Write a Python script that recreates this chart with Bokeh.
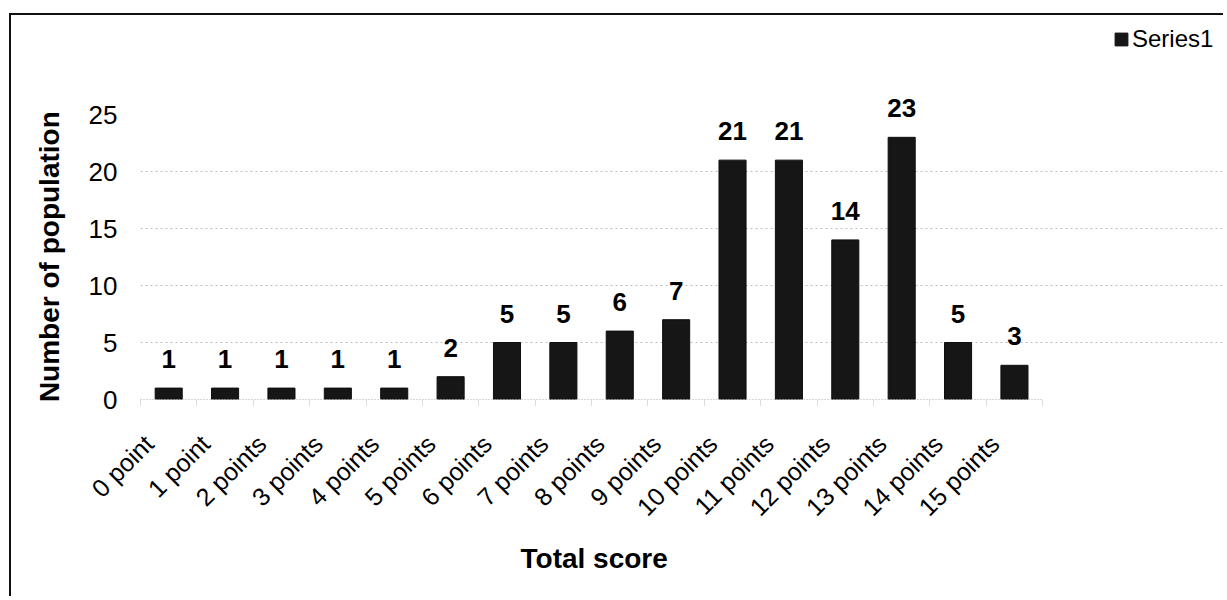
from bokeh.plotting import figure
from bokeh.models import ColumnDataSource, FixedTicker, LabelSet, Legend, LegendItem, Range1d, Title
from bokeh.core.properties import value
from bokeh.embed import file_html
from bokeh.resources import INLINE
import math

categories = ["0 point", "1 point", "2 points", "3 points", "4 points", "5 points",
              "6 points", "7 points", "8 points", "9 points", "10 points", "11 points",
              "12 points", "13 points", "14 points", "15 points"]
counts = [1, 1, 1, 1, 1, 2, 5, 5, 6, 7, 21, 21, 14, 23, 5, 3]
y_ticks = [0, 5, 10, 15, 20, 25]
grid_ticks = [5, 10, 15, 20]

positions = list(range(len(categories)))
src = ColumnDataSource(dict(x=positions, cat=categories, n=counts,
                            lbl=[str(c) for c in counts]))

FONT = "Liberation Sans"
LABEL_SHIFT = -0.35  # anchor x tick labels like Excel (top-right corner at the tick)
label_pos = [round(i + LABEL_SHIFT, 2) for i in positions]
boundaries = [i - 0.5 for i in positions] + [positions[-1] + 0.5]

p = figure(x_range=Range1d(-0.5, 18.69), y_range=Range1d(0, 33.25),
           width=1214, height=583,
           output_backend="svg", toolbar_location=None,
           min_border_left=129, min_border_right=3, min_border_top=5, min_border_bottom=199,
           margin=(13, 0, 0, 9),
           styles={"border-left": "2px solid #111111", "border-top": "2px solid #111111"})
p.outline_line_color = None
p.background_fill_color = "white"

r = p.vbar(x="x", top="n", width=0.48, bottom=0, source=src,
           fill_color="#161616", line_color="#0e0e0e")

labels = LabelSet(x="x", y="n", text="lbl", source=src, y_offset=20,
                  text_align="center", text_baseline="alphabetic",
                  text_font=value(FONT), text_font_style="bold", text_font_size="26px",
                  text_color="#000000")
p.add_layout(labels)

# y axis
p.yaxis.ticker = FixedTicker(ticks=y_ticks)
p.yaxis.axis_line_color = None
p.yaxis.major_tick_line_color = None
p.yaxis.minor_tick_line_color = None
p.yaxis.major_label_standoff = 17
p.yaxis.major_label_text_font = FONT
p.yaxis.major_label_text_font_size = "26px"
p.yaxis.major_label_text_color = "#000000"
# trailing no-break spaces keep the title centred on the 0-25 span rather than on the frame
p.yaxis.axis_label = "Number of population" + "\u00a0" * 12
p.yaxis.axis_label_text_font = FONT
p.yaxis.axis_label_text_font_style = "bold"
p.yaxis.axis_label_text_font_size = "28px"
p.yaxis.axis_label_text_color = "#000000"
p.yaxis.axis_label_standoff = 21

# x axis
p.xaxis.ticker = FixedTicker(ticks=label_pos, minor_ticks=boundaries)
p.xaxis.major_label_overrides = {lp: c for lp, c in zip(label_pos, categories)}
p.xaxis.bounds = (-0.5, 15.5)
p.xaxis.axis_line_color = "#b0b0b0"
p.xaxis.axis_line_dash = "1 2"
p.xaxis.major_tick_line_color = None
p.xaxis.minor_tick_line_color = "#b8b8b8"
p.xaxis.minor_tick_line_dash = "1 1"
p.xaxis.minor_tick_in = 0
p.xaxis.minor_tick_out = 6
p.xaxis.major_label_orientation = math.pi / 4
p.xaxis.major_label_standoff = 34
p.xaxis.major_label_text_font = FONT
p.xaxis.major_label_text_font_size = "25px"
p.xaxis.major_label_text_color = "#000000"

xtitle = Title(text="Total score", align="left", offset=380, vertical_align="top",
               standoff=16, text_font=FONT, text_font_style="bold",
               text_font_size="28px", text_color="#000000")
p.add_layout(xtitle, "below")

p.xgrid.grid_line_color = None
p.ygrid.ticker = FixedTicker(ticks=grid_ticks)
p.ygrid.bounds = (-0.5, 15.5)
p.ygrid.grid_line_color = "#bdbdbd"
p.ygrid.grid_line_dash = "2 3"

legend = Legend(items=[LegendItem(label="Series1", renderers=[r])],
                location=(973, 346), orientation="vertical",
                glyph_width=16, glyph_height=16, label_standoff=3,
                padding=0, margin=0, spacing=0,
                border_line_color=None, background_fill_alpha=0,
                label_text_font=FONT, label_text_font_size="24px",
                label_text_color="#000000")
p.add_layout(legend)

open("out.html", "w").write(file_html(p, INLINE))
